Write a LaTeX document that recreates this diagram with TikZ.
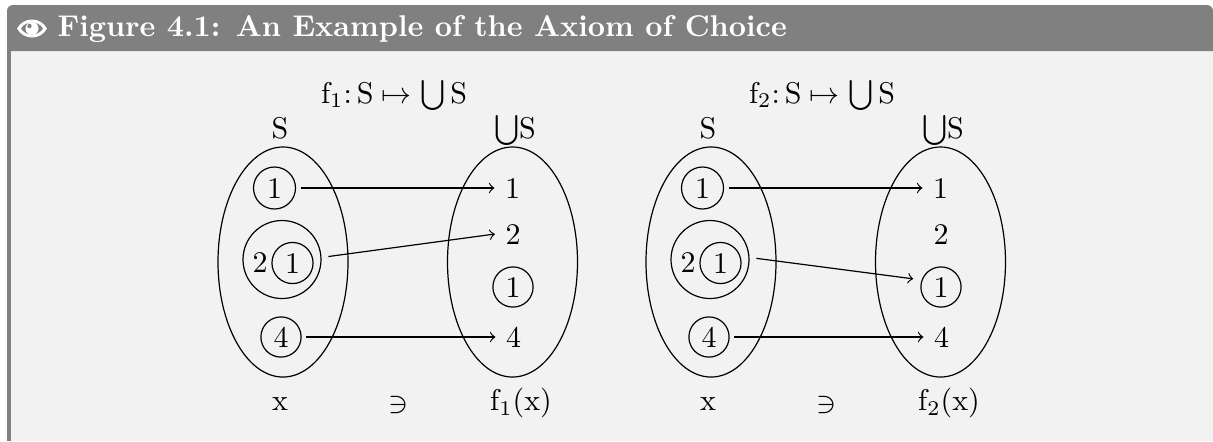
\documentclass[tikz,border=0pt]{standalone}
\usetikzlibrary{shapes.geometric}
\definecolor{hdr}{RGB}{128,128,128}
\definecolor{bodybg}{RGB}{242,242,242}
\begin{document}
\begin{tikzpicture}[x=0.3333pt,y=-0.3333pt,
  sc/.style={circle, draw, minimum size=14pt, inner sep=0pt},
  bc/.style={circle, draw, minimum size=26pt, inner sep=0pt},
  setel/.style={ellipse, draw, minimum width=43.33pt, minimum height=76.67pt, inner sep=0pt},
  lbl/.style={anchor=base},
  arr/.style={->, shorten <=1.5pt}]
\useasboundingbox (0,0) rectangle (1213,441);
\fill[white] (0,0) rectangle (1213,441);
% box
\fill[bodybg] (7,51) rectangle (1213,441);
\fill[hdr] (7,51) rectangle (11,441);
\fill[hdr] (7,51) [rounded corners=2pt] -- (7,5) -- (1213,5) [sharp corners] -- (1213,51) -- cycle;
% eye icon
\fill[white] (17,28.5) .. controls (23.5,16.5) and (40.5,16.5) .. (47,28.5) .. controls (40.5,40.5) and (23.5,40.5) .. (17,28.5) -- cycle;
\fill[hdr] (21,28.5) .. controls (26,20.5) and (38,20.5) .. (43,28.5) .. controls (38,36.5) and (26,36.5) .. (21,28.5) -- cycle;
\fill[white] (32,28.5) circle (6.5);
\fill[hdr] (29.5,26) circle (2.2);
\node[anchor=west, inner sep=0pt, text=white, font=\bfseries] (title) at (57,28.5) {Figure 4.1: An Example of the Axiom of Choice};

% ---------- left diagram ----------
\node[setel] (A1) at (283,262) {};
\node[setel] (B1) at (512.5,262) {};
\node[lbl] (SL) at (280,138) {S};
\node[lbl] (USL) at (515,138) {$\bigcup$S};
\node[lbl] (fL) at (394,103) {$\mathrm{f}_1\colon\mathrm{S}\mapsto\bigcup\mathrm{S}$};
\node[sc] (c1L) at (274.5,188) {1};
\node[bc] (bigL) at (282,259.5) {};
\node (twoL) at (260,262) {2};
\node[sc, minimum size=13.7pt] (inL) at (292.5,263) {1};
\node[sc, minimum size=13.4pt] (c4L) at (281,337) {4};
\node (t1L) at (512.5,188) {1};
\node (t2L) at (513,234) {2};
\node[sc, minimum size=13.4pt] (t3L) at (513,287) {1};
\node (t4L) at (513.5,337) {4};
\draw[arr] (c1L) -- (t1L);
\draw[arr, shorten <=2.3pt] (bigL.3) -- (t2L.west);
\draw[arr] (c4L) -- (t4L);
\node (xL) at (280,404) {x};
\node (niL) at (398,405) {$\ni$};
\node (fxL) at (521,403) {$\mathrm{f}_1(\mathrm{x})$};

% ---------- right diagram ----------
\node[setel] (A2) at (711,262) {};
\node[setel] (B2) at (940.5,262) {};
\node[lbl] (SR) at (708,138) {S};
\node[lbl] (USR) at (943,138) {$\bigcup$S};
\node[lbl] (fR) at (822,103) {$\mathrm{f}_2\colon\mathrm{S}\mapsto\bigcup\mathrm{S}$};
\node[sc] (c1R) at (702.5,188) {1};
\node[bc] (bigR) at (710,259.5) {};
\node (twoR) at (688,262) {2};
\node[sc, minimum size=13.7pt] (inR) at (720.5,263) {1};
\node[sc, minimum size=13.4pt] (c4R) at (709,337) {4};
\node (t1R) at (940.5,188) {1};
\node (t2R) at (941,234) {2};
\node[sc, minimum size=13.4pt] (t3R) at (941,287) {1};
\node (t4R) at (941.5,337) {4};
\draw[arr] (c1R) -- (t1R);
\draw[arr, shorten <=2.3pt, shorten >=2.8pt] (bigR.3) -- (t3R.160);
\draw[arr] (c4R) -- (t4R);
\node (xR) at (708,404) {x};
\node (niR) at (826,405) {$\ni$};
\node (fxR) at (949,403) {$\mathrm{f}_2(\mathrm{x})$};
\end{tikzpicture}
\end{document}
